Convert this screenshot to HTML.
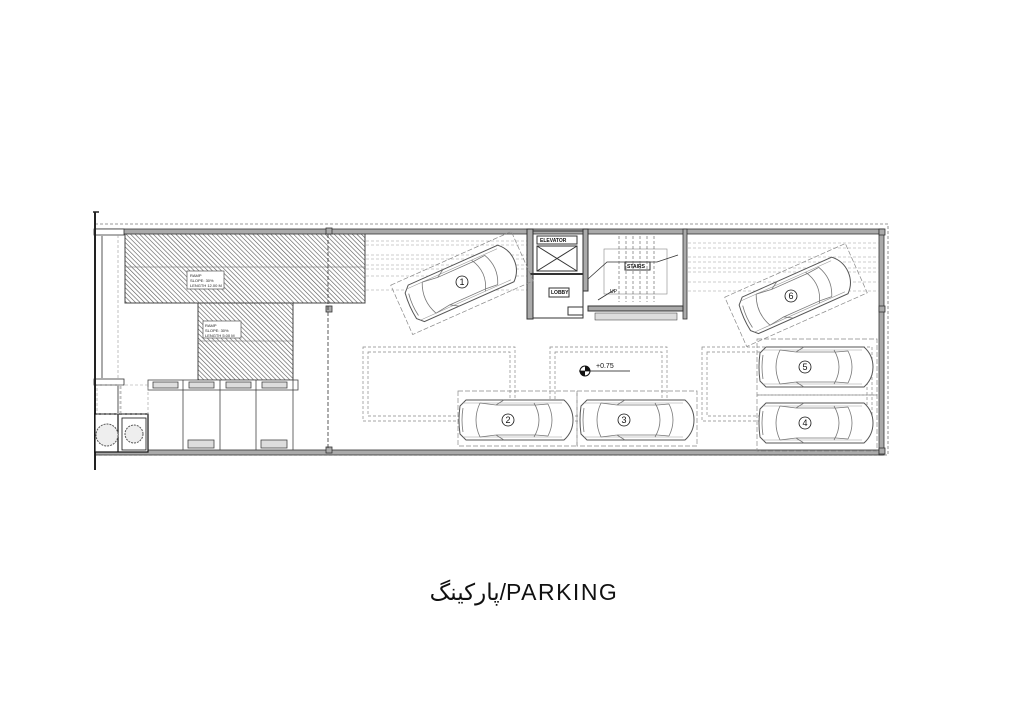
<!DOCTYPE html>
<html><head><meta charset="utf-8"><style>
html,body{margin:0;padding:0;background:#fff;}
body{width:1024px;height:707px;overflow:hidden;}
</style></head><body>
<svg width="1024" height="707" viewBox="0 0 1024 707" xmlns="http://www.w3.org/2000/svg" font-family="Liberation Sans, sans-serif">
<defs>
<pattern id="h" width="3.2" height="3.2" patternUnits="userSpaceOnUse" patternTransform="rotate(-45)">
<rect width="3.2" height="3.2" fill="#fff"/><line x1="0" y1="0" x2="0" y2="3.2" stroke="#555" stroke-width="1.2"/>
</pattern>
<g id="car">
<path d="M-56,-14 Q-58,0 -56,14 L-50,20 L48,20 Q57,12 57,0 Q57,-12 48,-20 L-50,-20 Z" fill="#fff" stroke="#555" stroke-width="1"/>
<path d="M-53,-17 L46,-17 M-53,17 L46,17" fill="none" stroke="#999" stroke-width="0.6"/>
<path d="M-53,-12 Q-55,0 -53,12 M-36,-17 Q-44,0 -36,17 M-20,-15 L20,-15 M-20,15 L20,15 M18,-17 Q28,0 18,17 M32,-16 Q40,0 32,16 M-36,-17 L-20,-15 L-12,-20 M-36,17 L-20,15 L-12,20 M20,-15 L32,-16 M20,15 L32,16" fill="none" stroke="#777" stroke-width="0.8"/>
</g>
</defs>
<g fill="none" stroke="#777" stroke-width="0.8" stroke-dasharray="3,2">
<rect x="95" y="224" width="793" height="231"/>
</g>
<rect x="125" y="231" width="240" height="72" fill="url(#h)" stroke="#444" stroke-width="1"/>
<line x1="125" y1="267" x2="365" y2="267" stroke="#666" stroke-width="0.6"/>
<rect x="198" y="303" width="95" height="77" fill="url(#h)" stroke="#444" stroke-width="1"/>
<line x1="198" y1="341" x2="293" y2="341" stroke="#666" stroke-width="0.6"/>
<rect x="187" y="271" width="37" height="18" fill="#fff" stroke="#555" stroke-width="0.7"/>
<text x="190" y="277" font-size="4" fill="#222">RAMP</text><text x="190" y="282" font-size="4" fill="#222">SLOPE: 30%</text><text x="190" y="287" font-size="4" fill="#222">LENGTH 12.00 M</text>
<rect x="203" y="321" width="38" height="17" fill="#fff" stroke="#555" stroke-width="0.7"/>
<text x="205" y="327" font-size="4" fill="#222">RAMP</text><text x="205" y="332" font-size="4" fill="#222">SLOPE: 30%</text><text x="205" y="337" font-size="4" fill="#222">LENGTH 5.00 M</text>
<g fill="#aaa" stroke="#333" stroke-width="0.8">
<rect x="95" y="229" width="788" height="5"/>
<rect x="95" y="450" width="788" height="5"/>
<rect x="879" y="229" width="5" height="226"/>
<rect x="683" y="229" width="4" height="90"/>
<rect x="94" y="229" width="30" height="6" fill="#fff"/>
<rect x="94" y="379" width="30" height="6" fill="#fff"/>
<rect x="326" y="228" width="6" height="6"/><rect x="326" y="306" width="6" height="6"/><rect x="326" y="447" width="6" height="6"/>
<rect x="879" y="229" width="6" height="6"/><rect x="879" y="306" width="6" height="6"/><rect x="879" y="448" width="6" height="6"/>
</g>
<line x1="95" y1="212" x2="95" y2="470" stroke="#222" stroke-width="2"/>
<line x1="93" y1="212" x2="99" y2="212" stroke="#222" stroke-width="1.5"/>
<line x1="102" y1="235" x2="102" y2="379" stroke="#aaa" stroke-width="2"/>
<line x1="118" y1="235" x2="118" y2="379" stroke="#999" stroke-width="0.6" stroke-dasharray="3,2"/>
<line x1="328" y1="234" x2="328" y2="450" stroke="#333" stroke-width="0.8" stroke-dasharray="4,2"/>
<g stroke="#444" stroke-width="0.8" fill="#fff">
<rect x="148" y="380" width="150" height="10"/>
<line x1="183" y1="380" x2="183" y2="450"/><line x1="220" y1="380" x2="220" y2="450"/><line x1="256" y1="380" x2="256" y2="450"/><line x1="293" y1="380" x2="293" y2="450"/>
<rect x="153" y="382" width="25" height="6" fill="#ddd"/><rect x="189" y="382" width="25" height="6" fill="#ddd"/><rect x="226" y="382" width="25" height="6" fill="#ddd"/><rect x="262" y="382" width="25" height="6" fill="#ddd"/>
<rect x="188" y="440" width="26" height="8" fill="#ddd"/><rect x="261" y="440" width="26" height="8" fill="#ddd"/>
<rect x="95" y="414" width="53" height="38" stroke="#111" stroke-width="1.2"/>
<line x1="118" y1="414" x2="118" y2="452" stroke="#111" stroke-width="1.2"/>
<rect x="122" y="418" width="24" height="32" stroke="#111"/>
</g>
<circle cx="107" cy="435" r="11" fill="#eee" stroke="#555" stroke-width="1" stroke-dasharray="2,1"/>
<circle cx="134" cy="434" r="9" fill="#eee" stroke="#555" stroke-width="1" stroke-dasharray="2,1"/>
<rect x="97" y="385" width="24" height="29" fill="none" stroke="#999" stroke-width="0.6" stroke-dasharray="3,2"/>
<rect x="120" y="385" width="28" height="29" fill="none" stroke="#999" stroke-width="0.6" stroke-dasharray="3,2"/>
<line x1="118" y1="385" x2="118" y2="414" stroke="#aaa" stroke-width="2"/>
<g stroke="#999" stroke-width="0.6" stroke-dasharray="3,2">
<line x1="366" y1="241" x2="530" y2="241"/><line x1="366" y1="245" x2="530" y2="245"/>
<line x1="366" y1="255" x2="530" y2="255"/><line x1="366" y1="259" x2="530" y2="259"/>
<line x1="366" y1="265" x2="530" y2="265"/><line x1="366" y1="269" x2="530" y2="269"/>
<line x1="366" y1="276" x2="530" y2="276"/><line x1="366" y1="290" x2="530" y2="290"/>
<line x1="688" y1="243" x2="879" y2="243"/><line x1="688" y1="248" x2="879" y2="248"/>
<line x1="688" y1="257" x2="879" y2="257"/><line x1="688" y1="262" x2="879" y2="262"/>
<line x1="688" y1="268" x2="879" y2="268"/><line x1="688" y1="272" x2="879" y2="272"/>
<line x1="688" y1="282" x2="879" y2="282"/><line x1="688" y1="291" x2="879" y2="291"/>
</g>
<g fill="none" stroke="#888" stroke-width="0.7" stroke-dasharray="3,2">
<rect x="363" y="347" width="152" height="74"/><rect x="368" y="352" width="142" height="64"/>
<rect x="550" y="347" width="117" height="74"/><rect x="555" y="352" width="107" height="64"/>
<rect x="702" y="347" width="170" height="74"/><rect x="707" y="352" width="160" height="64"/>
<rect x="458" y="391" width="119" height="55" stroke-dasharray="5,2"/>
<rect x="577" y="391" width="120" height="55" stroke-dasharray="5,2"/>
<rect x="757" y="339" width="120" height="56" stroke-dasharray="5,2"/>
<rect x="757" y="395" width="120" height="56" stroke-dasharray="5,2"/>
</g>
<g fill="none" stroke="#333" stroke-width="1">
<rect x="530" y="231" width="53" height="87" stroke-width="1"/>
<rect x="527" y="229" width="6" height="90" fill="#aaa"/>
<rect x="583" y="229" width="5" height="62" fill="#aaa"/>
<rect x="537" y="236" width="40" height="8" fill="#fff"/>
<rect x="537" y="246" width="40" height="25"/>
<path d="M537,246 L577,271 M577,246 L537,271"/>
<line x1="530" y1="274" x2="583" y2="274" stroke-width="2"/>
<rect x="549" y="288" width="20" height="9" fill="#fff"/>
<rect x="568" y="307" width="15" height="8" fill="#fff"/>
<rect x="588" y="306" width="95" height="5" fill="#aaa"/>
<rect x="595" y="313" width="82" height="7" fill="#ddd" stroke-width="0.5"/>
<rect x="604" y="249" width="63" height="45" stroke="#888" stroke-width="0.6"/>
<rect x="625" y="262" width="25" height="8" fill="#fff"/>
<path d="M588,279 L607,262 L657,262 L678,255 M598,300 L614,290" stroke-width="0.8"/>
</g>
<g stroke="#555" stroke-width="0.6" stroke-dasharray="3,2">
<line x1="619" y1="236" x2="619" y2="302"/><line x1="626" y1="236" x2="626" y2="302"/><line x1="633" y1="236" x2="633" y2="302"/><line x1="640" y1="236" x2="640" y2="302"/><line x1="647" y1="236" x2="647" y2="302"/><line x1="654" y1="236" x2="654" y2="302"/>
</g>
<text x="540" y="242" font-size="5" font-weight="bold" fill="#111">ELEVATOR</text>
<text x="627" y="268" font-size="5" font-weight="bold" fill="#111">STAIRS</text>
<text x="551" y="294" font-size="5" font-weight="bold" fill="#111">LOBBY</text>
<text x="610" y="293" font-size="5" fill="#111">UP</text>
<g transform="translate(462,283) rotate(-24)"><use href="#car"/><rect x="-66" y="-27" width="132" height="54" fill="none" stroke="#888" stroke-width="0.7" stroke-dasharray="5,2"/></g>
<g transform="translate(796,295) rotate(-24)"><use href="#car"/><rect x="-66" y="-27" width="132" height="54" fill="none" stroke="#888" stroke-width="0.7" stroke-dasharray="5,2"/></g>
<g transform="translate(516,420)"><use href="#car"/></g>
<g transform="translate(637,420)"><use href="#car"/></g>
<g transform="translate(816,367)"><use href="#car"/></g>
<g transform="translate(816,423)"><use href="#car"/></g>
<g fill="#fff" stroke="#111" stroke-width="0.8">
<circle cx="462" cy="282" r="6"/><circle cx="508" cy="420" r="6"/><circle cx="624" cy="420" r="6"/>
<circle cx="805" cy="423" r="6"/><circle cx="805" cy="367" r="6"/><circle cx="791" cy="296" r="6"/>
</g>
<g font-size="9" text-anchor="middle" fill="#111">
<text x="462" y="285">1</text><text x="508" y="423">2</text><text x="624" y="423">3</text><text x="805" y="426">4</text><text x="805" y="370">5</text><text x="791" y="299">6</text>
</g>
<circle cx="585" cy="371" r="5" fill="#fff" stroke="#111"/>
<path d="M585,371 L585,366 A5,5 0 0 1 590,371 Z M585,371 L585,376 A5,5 0 0 1 580,371 Z" fill="#111"/>
<line x1="579" y1="371" x2="630" y2="371" stroke="#111" stroke-width="0.8"/>
<text x="596" y="368" font-size="7" fill="#111">+0.75</text>
<text x="524" y="600" font-size="23" letter-spacing="1.5" text-anchor="middle" fill="#111" font-family="Liberation Sans, DejaVu Sans, sans-serif">پارکینگ/PARKING</text>
</svg>
</body></html>
